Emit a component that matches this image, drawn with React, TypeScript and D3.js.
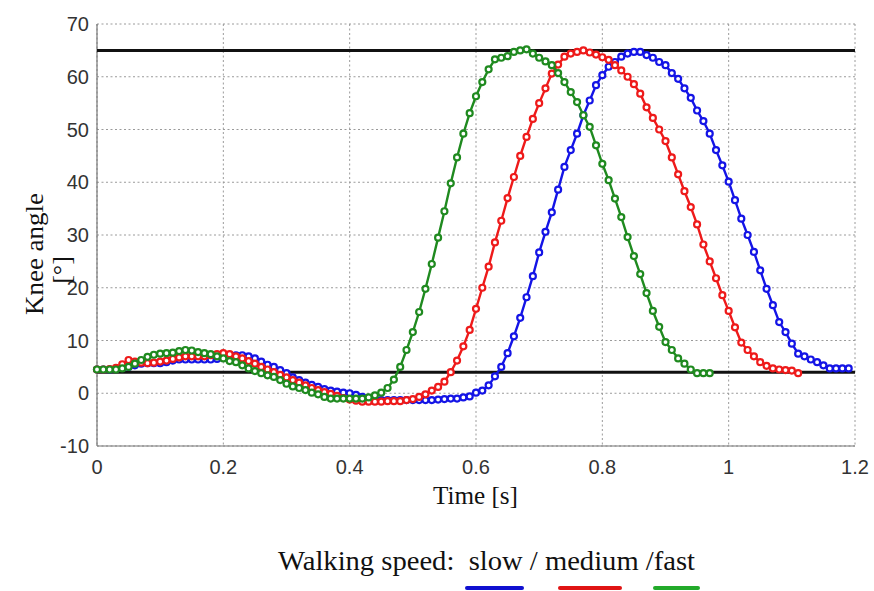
import React from "react";
import * as d3 from "d3";

// ---- data (knee angle in degrees, sampled every 0.01 s) ----
const SAMPLE_STEP = 0.01;

const slowKnee = [
  4.5, 4.5, 4.5, 4.6, 4.8, 5.0, 5.3, 5.6, 5.7, 5.7,
  5.7, 5.9, 6.2, 6.4, 6.4, 6.4, 6.4, 6.4, 6.4, 6.5,
  6.7, 7.0, 7.2, 7.2, 7.0, 6.6, 6.0, 5.4, 5.0, 4.4,
  3.8, 3.0, 2.5, 2.0, 1.6, 1.2, 0.8, 0.5, 0.3, 0.1,
  0.0, -0.3, -0.7, -1.0, -1.2, -1.3, -1.3, -1.3, -1.3, -1.3,
  -1.3, -1.3, -1.3, -1.3, -1.2, -1.1, -1.0, -1.0, -0.8, -0.6,
  0.1, 0.5, 1.5, 3.2, 5.0, 7.6, 10.8, 14.3, 18.2, 22.2,
  26.7, 30.6, 34.3, 38.6, 42.9, 46.1, 49.2, 52.7, 55.5, 58.4,
  60.3, 61.9, 62.8, 63.8, 64.4, 64.7, 64.7, 64.1, 63.6, 62.8,
  62.2, 60.7, 59.6, 57.8, 56.0, 53.6, 51.6, 49.2, 46.1, 43.2,
  40.1, 36.6, 33.1, 30.0, 26.8, 23.3, 19.8, 16.7, 13.5, 11.6,
  9.4, 7.5, 7.0, 6.4, 5.9, 5.3, 4.7, 4.7, 4.7, 4.7,
];

const mediumKnee = [
  4.5, 4.5, 4.6, 4.8, 5.5, 6.3, 6.0, 5.8, 5.7, 5.8,
  6.0, 6.2, 6.5, 6.8, 7.0, 7.0, 7.0, 7.0, 7.2, 7.4,
  7.6, 7.4, 7.0, 6.6, 6.1, 5.6, 5.0, 4.5, 4.0, 3.5,
  3.0, 2.5, 2.0, 1.5, 1.0, 0.6, 0.2, -0.1, -0.5, -0.9,
  -1.2, -1.4, -1.6, -1.6, -1.6, -1.6, -1.5, -1.5, -1.5, -1.3,
  -1.1, -0.7, -0.2, 0.5, 1.2, 2.2, 4.0, 6.2, 8.9, 12.0,
  16.0, 20.0, 24.0, 28.6, 32.7, 37.0, 41.0, 45.0, 48.6, 52.0,
  55.0, 57.8, 60.6, 62.3, 63.8, 64.4, 64.7, 65.0, 64.6, 64.2,
  63.7, 63.2, 62.2, 61.2, 60.0, 58.6, 56.8, 54.2, 52.2, 50.0,
  47.8, 44.7, 41.5, 38.3, 35.3, 32.0, 28.2, 25.0, 21.8, 18.6,
  15.6, 12.5, 9.6, 8.2, 7.0, 5.9, 5.2, 4.7, 4.5, 4.4,
  4.3, 3.8,
];

const fastKnee = [
  4.5, 4.5, 4.5, 4.5, 4.7, 5.0, 5.6, 6.3, 6.9, 7.3,
  7.5, 7.6, 7.7, 8.0, 8.2, 8.1, 7.8, 7.6, 7.4, 7.0,
  6.6, 6.1, 5.9, 5.3, 4.7, 4.2, 3.8, 3.4, 3.1, 2.5,
  1.8, 1.3, 1.0, 0.6, 0.1, -0.2, -0.7, -1.0, -1.0, -1.0,
  -1.0, -1.0, -1.0, -0.8, -0.4, 0.1, 1.0, 2.6, 5.0, 8.2,
  11.6, 15.4, 19.8, 24.5, 29.5, 34.5, 39.8, 44.7, 49.2, 53.1,
  56.3, 59.0, 61.4, 63.3, 63.6, 63.9, 64.7, 65.0, 65.2, 64.4,
  63.6, 62.9, 62.2, 60.7, 59.0, 57.1, 55.2, 52.7, 50.5, 47.0,
  43.5, 40.4, 36.9, 33.4, 29.6, 26.0, 22.6, 19.0, 15.6, 12.6,
  9.7, 8.2, 6.6, 5.6, 4.5, 3.8, 3.8, 3.8,
];

const referenceLevels = [65, 4];
const xTicks = [0, 0.2, 0.4, 0.6, 0.8, 1, 1.2];
const yTicks = [-10, 0, 10, 20, 30, 40, 50, 60, 70];
const seriesNames = ["slow", "medium", "fast"];
const seriesColors = ["#1414e6", "#ee1a1a", "#1f8a1f"];
const legendColors = ["#1010d0", "#e01414", "#22aa2a"];

const W = 874;
const H = 591;
const plot = { left: 97, right: 855, top: 24, bottom: 446 };

export default function App() {
  const x = d3.scaleLinear().domain([0, 1.2]).range([plot.left, plot.right]);
  const y = d3.scaleLinear().domain([-10, 70]).range([plot.bottom, plot.top]);

  const series = [slowKnee, mediumKnee, fastKnee].map((vals, k) => ({
    name: seriesNames[k],
    color: seriesColors[k],
    points: vals.map((v, i) => [i * SAMPLE_STEP, v] as [number, number]),
  }));

  const line = d3
    .line<[number, number]>()
    .x((d) => x(d[0]))
    .y((d) => y(d[1]));

  const tickFont = "'Liberation Sans', Arial, sans-serif";
  const serif = "'Liberation Serif', 'Times New Roman', serif";

  // legend layout
  const legendX = [467, 560, 655];
  const legendW = [55, 60, 43];

  return (
    <svg
      width={W}
      height={H}
      viewBox={`0 0 ${W} ${H}`}
      style={{ position: "absolute", left: 0, top: 0, background: "#fff" }}
    >
      <rect x={0} y={0} width={W} height={H} fill="#fff" />
      {/* grid */}
      <g stroke="#9a9a9a" strokeWidth={1} strokeDasharray="2,2.5">
        {xTicks.map((t) => (
          <line key={"gx" + t} x1={x(t)} x2={x(t)} y1={plot.top} y2={plot.bottom} />
        ))}
        {yTicks.map((t) => (
          <line key={"gy" + t} x1={plot.left} x2={plot.right} y1={y(t)} y2={y(t)} />
        ))}
      </g>
      {/* axes */}
      <g stroke="#777" strokeWidth={1.2}>
        <line x1={plot.left} x2={plot.left} y1={plot.top} y2={plot.bottom} />
        <line x1={plot.left} x2={plot.right} y1={plot.bottom} y2={plot.bottom} />
      </g>
      {/* tick labels */}
      <g fontFamily={tickFont} fontSize={20} fill="#333">
        {yTicks.map((t) => (
          <text key={"ty" + t} x={plot.left - 8} y={y(t)} dy="0.36em" textAnchor="end">
            {t}
          </text>
        ))}
        {xTicks.map((t) => (
          <text key={"tx" + t} x={x(t)} y={plot.bottom + 28} textAnchor="middle">
            {t}
          </text>
        ))}
      </g>
      {/* reference lines */}
      {referenceLevels.map((lv) => (
        <line
          key={"ref" + lv}
          x1={x(0)}
          x2={x(1.2)}
          y1={y(lv)}
          y2={y(lv)}
          stroke="#111"
          strokeWidth={3}
        />
      ))}
      {/* series */}
      {series.map((s) => (
        <g key={s.name}>
          <path d={line(s.points) || ""} fill="none" stroke={s.color} strokeWidth={2.4} />
          {s.points.map((p, i) => (
            <circle
              key={i}
              cx={x(p[0])}
              cy={y(p[1])}
              r={3}
              fill="#fff"
              stroke={s.color}
              strokeWidth={2.2}
            />
          ))}
        </g>
      ))}
      {/* axis titles */}
      <text
        x={475.5}
        y={504}
        textAnchor="middle"
        fontFamily={serif}
        fontSize={25}
        fill="#111"
        textLength={85}
        lengthAdjust="spacingAndGlyphs"
      >
        Time [s]
      </text>
      <g fontFamily={serif} fontSize={26} fill="#111">
        <text
          transform="translate(43,254) rotate(-90)"
          textAnchor="middle"
          textLength={122}
          lengthAdjust="spacingAndGlyphs"
        >
          Knee angle
        </text>
        <text transform="translate(70,270) rotate(-90)" textAnchor="middle">
          [°]
        </text>
      </g>
      {/* legend */}
      <text
        x={278}
        y={570}
        fontFamily={serif}
        fontSize={28}
        fill="#111"
        xmlSpace="preserve"
        textLength={417}
        lengthAdjust="spacingAndGlyphs"
      >
        {"Walking speed:  slow / medium /fast"}
      </text>
      {legendColors.map((c, i) => (
        <line
          key={"lg" + i}
          x1={legendX[i]}
          x2={legendX[i] + legendW[i]}
          y1={588}
          y2={588}
          stroke={c}
          strokeWidth={4}
          strokeLinecap="round"
        />
      ))}
    </svg>
  );
}
